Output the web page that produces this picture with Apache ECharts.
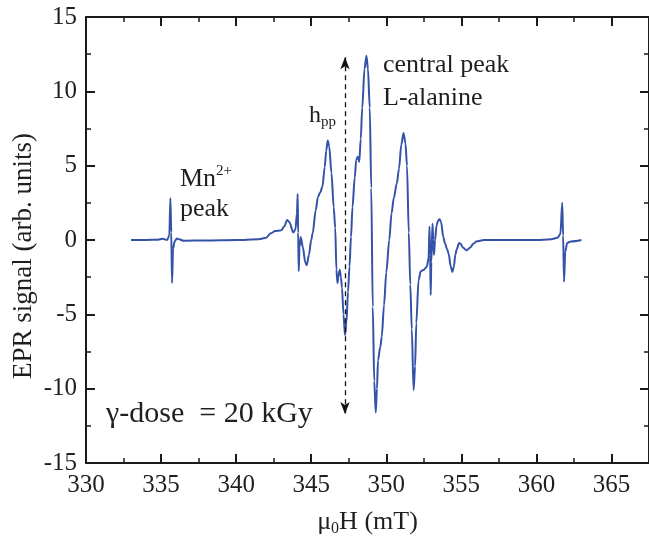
<!DOCTYPE html>
<html>
<head>
<meta charset="utf-8">
<script src="https://cdn.jsdelivr.net/npm/echarts@6/dist/echarts.min.js"></script>
<style>html,body{margin:0;padding:0;background:#fff}#c{width:649px;height:542px}</style>
</head>
<body>
<div id="c"></div>
<script>
// Field values (mT)
var fieldX = [
 333.0,334.0,334.8,335.1,335.4,335.55,335.62,335.68,335.73,335.8,335.9,336.05,336.2,336.5,338.0,340.0,341.5,
 342.0,342.3,342.6,343.0,343.2,343.4,343.55,343.8,343.95,344.05,344.1,344.13,344.17,344.22,344.3,344.45,344.6,344.7,344.85,
 345.0,345.1,345.3,345.45,345.6,345.75,345.9,346.0,346.1,346.2,346.35,346.5,346.6,346.68,346.75,346.82,346.9,346.98,
 347.05,347.15,347.25,347.35,347.45,347.55,347.65,347.75,347.9,348.0,348.1,348.2,348.3,348.4,348.55,348.68,348.78,348.9,
 349.0,349.1,349.2,349.3,349.38,349.45,349.6,349.7,349.85,350.0,350.2,350.35,350.5,350.7,350.85,351.0,351.15,351.28,351.38,
 351.5,351.6,351.7,351.82,351.92,352.0,352.15,352.3,352.5,352.7,352.82,352.88,352.92,352.96,353.0,353.08,353.13,353.18,353.25,
 353.35,353.45,353.55,353.65,353.8,353.9,354.05,354.15,354.3,354.4,354.5,354.6,354.7,354.85,354.95,355.1,355.35,355.6,355.8,
 356.0,356.5,358.0,360.0,361.0,361.4,361.6,361.72,361.78,361.84,361.92,362.05,362.3,363.0
];
// EPR signal values (arb. units)
var signalY = [
 0.0,0.0,0.02,0.08,0.0,0.3,2.8,0.5,-2.9,-0.6,-0.1,0.1,0.05,-0.05,-0.03,0.0,0.05,
 0.15,0.45,0.6,0.65,0.9,1.35,1.2,0.5,0.7,1.8,3.1,0.5,-2.1,-0.5,0.2,-0.5,-1.5,-1.7,-1.0,
 0.0,0.45,2.0,2.9,3.2,3.6,4.9,6.0,6.7,6.3,4.5,2.2,0.8,-2.0,-2.9,-2.4,-2.0,-2.5,
 -3.2,-5.0,-6.4,-5.5,-3.5,-1.8,0.2,2.2,4.2,5.4,5.6,5.25,6.8,8.9,11.5,12.4,11.5,8.9,
 3.5,-4.5,-9.5,-11.6,-10.0,-8.1,-7.2,-6.5,-4.4,-2.2,0.0,1.8,2.8,3.8,4.8,6.4,7.2,6.5,5.0,
 0.5,-3.0,-6.0,-10.1,-8.5,-5.6,-2.7,-2.1,-2.0,-1.8,-1.2,0.9,-1.0,-3.7,-1.5,1.1,0.0,-1.0,0.0,
 1.0,1.3,1.4,1.2,0.2,-0.2,-0.6,-0.9,-1.8,-2.15,-1.8,-1.0,-0.6,-0.2,-0.25,-0.5,-0.7,-0.5,-0.25,
 -0.1,0.0,0.0,0.0,0.05,0.15,0.4,2.5,0.3,-2.8,-0.8,-0.2,-0.1,0.0
];
// h_pp arrow endpoints
var hppField = 347.25;
var hppRange = [12.3, -11.7];
var xTicks = {min: 330, max: 367.5, step: 5};
var yTicks = {min: -15, max: 15, step: 5};

var FONT = '"Liberation Serif", "Times New Roman", serif';
var TXT = '#1f1f1f';
var data = fieldX.map(function (x, i) { return [x, signalY[i]]; });

function xAx(pos, showLabel) {
  return {
    type: 'value', position: pos, min: xTicks.min, max: xTicks.max, interval: xTicks.step,
    axisLine: {show: true, onZero: false, lineStyle: {color: '#1a1a1a', width: 2}},
    axisTick: {show: true, inside: true, length: 9, lineStyle: {color: '#1a1a1a', width: 2}},
    minorTick: {show: true, splitNumber: 2, length: 5, lineStyle: {color: '#1a1a1a', width: 1.5}},
    axisLabel: {show: showLabel, showMaxLabel: false, margin: 10, fontFamily: FONT, fontSize: 25, color: TXT},
    splitLine: {show: false}, minorSplitLine: {show: false},
    name: showLabel ? '{a|μ}{s|0}{a|H (mT)}' : '',
    nameLocation: 'middle', nameGap: 44,
    nameTextStyle: {fontFamily: FONT, color: TXT, rich: {
      a: {fontFamily: FONT, fontSize: 26, color: TXT, lineHeight: 30},
      s: {fontFamily: FONT, fontSize: 16, color: TXT, lineHeight: 16, verticalAlign: 'bottom', padding: [10, 0, 0, 0]}
    }}
  };
}
function yAx(pos, showLabel) {
  return {
    type: 'value', position: pos, min: yTicks.min, max: yTicks.max, interval: yTicks.step,
    axisLine: {show: true, onZero: false, lineStyle: {color: '#1a1a1a', width: 2}},
    axisTick: {show: true, inside: true, length: 9, lineStyle: {color: '#1a1a1a', width: 2}},
    minorTick: {show: true, splitNumber: 2, length: 5, lineStyle: {color: '#1a1a1a', width: 1.5}},
    axisLabel: {show: showLabel, margin: 9, fontFamily: FONT, fontSize: 25, color: TXT},
    splitLine: {show: false}, minorSplitLine: {show: false}
  };
}

var chart = echarts.init(document.getElementById('c'), null, {renderer: 'canvas'});
chart.setOption({
  animation: false,
  backgroundColor: '#fff',
  grid: {left: 86, right: 0, top: 17, bottom: 79, containLabel: false},
  xAxis: [xAx('bottom', true), xAx('top', false)],
  yAxis: [yAx('left', true), yAx('right', false)],
  series: [{
    type: 'line', xAxisIndex: 0, yAxisIndex: 0, data: data,
    showSymbol: false, smooth: 0.3, smoothMonotone: 'x',
    lineStyle: {color: '#3452a8', width: 2},
    markLine: {
      silent: true, symbol: ['arrow', 'arrow'], symbolSize: [7, 12],
      label: {show: false},
      lineStyle: {color: '#111', type: [5, 4], width: 1.3},
      data: [[{coord: [hppField, hppRange[0]]}, {coord: [hppField, hppRange[1]]}]]
    }
  }],
  graphic: [
    {type: 'text', x: 24, y: 256, rotation: Math.PI / 2, style: {text: 'EPR signal (arb. units)', fontFamily: FONT, fontSize: 27, fill: TXT, align: 'center', verticalAlign: 'middle'}},
    {type: 'text', left: 180, top: 164, style: {text: '{a|Mn}{s|2+}', fill: TXT, rich: {
      a: {fontFamily: FONT, fontSize: 26, fill: TXT, lineHeight: 30},
      s: {fontFamily: FONT, fontSize: 15, fill: TXT, lineHeight: 15, verticalAlign: 'top'}}}},
    {type: 'text', left: 180, top: 196, style: {text: 'peak', fontFamily: FONT, fontSize: 26, fill: TXT}},
    {type: 'text', left: 309, top: 104, style: {text: '{a|h}{s|pp}', fill: TXT, rich: {
      a: {fontFamily: FONT, fontSize: 24, fill: TXT, lineHeight: 28},
      s: {fontFamily: FONT, fontSize: 15, fill: TXT, lineHeight: 15, verticalAlign: 'bottom', padding: [8, 0, 0, 0]}}}},
    {type: 'text', left: 383, top: 52, style: {text: 'central peak', fontFamily: FONT, fontSize: 26, fill: TXT}},
    {type: 'text', left: 383, top: 85, style: {text: 'L-alanine', fontFamily: FONT, fontSize: 26, fill: TXT}},
    {type: 'text', left: 106, top: 399, style: {text: 'γ-dose  = 20 kGy', fontFamily: FONT, fontSize: 30, fill: TXT}}
  ]
});
</script>
</body>
</html>
